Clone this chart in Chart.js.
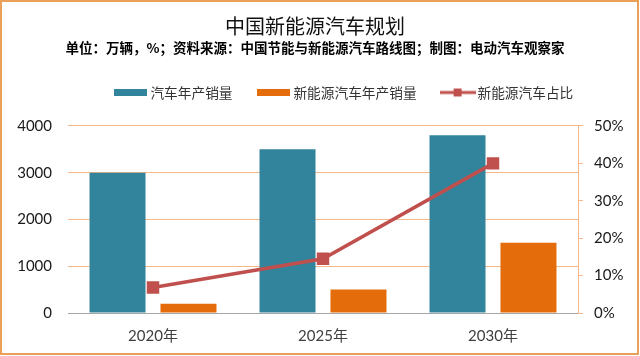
<!DOCTYPE html>
<html>
<head>
<meta charset="utf-8">
<script src="https://cdn.jsdelivr.net/npm/chart.js@4"></script>
<style>
  html, body { margin: 0; padding: 0; background: #fff; }
  #wrap { width: 640px; height: 356px; position: relative; }
</style>
</head>
<body>
<div id="wrap"><canvas id="c" width="640" height="356"></canvas></div>
<script>
// ---- data ----
const categories = ['2020年', '2025年', '2030年'];
const totalSales = [3000, 3500, 3800];          // 汽车年产销量 (万辆)
const nevSales = [200, 500, 1500];              // 新能源汽车年产销量 (万辆)
const nevShare = [6.8, 14.5, 40];               // 新能源汽车占比 (%)
const leftTicks = [0, 1000, 2000, 3000, 4000];
const rightTicks = [0, 10, 20, 30, 40, 50];
const seriesNames = ['汽车年产销量', '新能源汽车年产销量', '新能源汽车占比'];
const titleText = '中国新能源汽车规划';
const subtitleText = '单位：万辆，%；资料来源：中国节能与新能源汽车路线图；制图：电动汽车观察家';

// ---- styles ----
const BLUE = '#31849b';
const ORANGE = '#e46c0a';
const RED = '#c0504d';
const GRID = '#f6b889';
const FRAME = '#eba05a';
const CJK = '"Noto Sans CJK SC", "Noto Sans", sans-serif';
const NUM = 'Lato, "Noto Sans CJK SC", sans-serif';

function makeCanvas(w, h, draw) {
  const cv = document.createElement('canvas');
  cv.width = w; cv.height = h;
  draw(cv.getContext('2d'));
  return cv;
}
const iconBlue = makeCanvas(33, 7, g => { g.fillStyle = BLUE; g.fillRect(0, 0, 33, 7); });
const iconOrange = makeCanvas(33, 7, g => { g.fillStyle = ORANGE; g.fillRect(0, 0, 33, 7); });
const iconLine = makeCanvas(36, 10, g => {
  g.fillStyle = RED; g.fillRect(0, 3.5, 36, 3);
  g.fillRect(14, 1, 8, 8);
});
const iconBlank = makeCanvas(1, 1, g => {});

const framePlugin = {
  id: 'frame',
  beforeDraw(chart) {
    const g = chart.ctx;
    g.save();
    g.fillStyle = '#fff';
    g.fillRect(0, 0, chart.width, chart.height);
    g.restore();
  },
  afterDraw(chart) {
    const g = chart.ctx;
    g.save();
    g.strokeStyle = FRAME;
    g.lineWidth = 2;
    g.strokeRect(1, 1, chart.width - 3, chart.height - 3);
    g.restore();
  }
};

new Chart(document.getElementById('c'), {
  data: {
    labels: categories,
    datasets: [
      { type: 'line', label: seriesNames[2], data: nevShare, yAxisID: 'y1',
        borderColor: RED, backgroundColor: RED, borderWidth: 3.5,
        pointStyle: 'rect', pointRadius: 8.8, pointBorderWidth: 0,
        pointBackgroundColor: RED, tension: 0, order: 0 },
      { type: 'bar', label: seriesNames[0], data: totalSales, yAxisID: 'y',
        backgroundColor: BLUE, categoryPercentage: 0.835, barPercentage: 0.789, order: 1 },
      { type: 'bar', label: seriesNames[1], data: nevSales, yAxisID: 'y',
        backgroundColor: ORANGE, categoryPercentage: 0.835, barPercentage: 0.789, order: 1 }
    ]
  },
  options: {
    responsive: false,
    animation: false,
    devicePixelRatio: 1,
    layout: { padding: { left: 0, right: 10, top: 0, bottom: 0 } },
    plugins: {
      title: { display: true, text: titleText, color: '#111',
        font: { family: CJK, size: 20, weight: 'normal' },
        padding: { top: 14.5, bottom: 0 } },
      subtitle: { display: true, text: subtitleText, color: '#000',
        font: { family: CJK, size: 13.5, weight: 'bold' },
        padding: { top: 0.9, bottom: 2 } },
      legend: {
        display: true, position: 'top', align: 'center',
        labels: {
          usePointStyle: true, pointStyleWidth: 26, padding: 28,
          color: '#333', font: { family: CJK, size: 13.7 },
          generateLabels(chart) {
            const icons = [iconBlue, iconOrange, iconLine];
            const order = [1, 2, 0];
            const items = [{ text: '', pointStyle: iconBlank, hidden: false, lineWidth: 0,
              fillStyle: 'rgba(0,0,0,0)', strokeStyle: 'rgba(0,0,0,0)', datasetIndex: -1 }];
            [0, 1, 2].forEach(i => {
              items.push({ text: seriesNames[i], pointStyle: icons[i], hidden: false,
                lineWidth: 0, fillStyle: 'rgba(0,0,0,0)', strokeStyle: 'rgba(0,0,0,0)',
                fontColor: '#333', datasetIndex: order[i] });
            });
            return items;
          }
        },
        onClick() {}
      },
      tooltip: { enabled: false }
    },
    scales: {
      x: {
        type: 'category', position: 'bottom',
        grid: { display: false, drawTicks: false },
        border: { display: true, color: '#a6a6a6', width: 1 },
        ticks: { color: '#404040', font: { family: NUM, size: 15 }, padding: 14 },
        afterFit(s) { s.height = 43; }
      },
      spacer: {
        type: 'category', position: 'top', display: true,
        grid: { display: false, drawTicks: false }, border: { display: false },
        ticks: { display: false },
        afterFit(s) { s.height = 16.65; }
      },
      y: {
        type: 'linear', position: 'left', min: 0, max: 4000,
        afterBuildTicks(s) { s.ticks = leftTicks.map(v => ({ value: v })); },
        grid: { color: GRID, lineWidth: 1, drawTicks: false },
        border: { display: false },
        ticks: { color: '#1a1a1a', font: { family: NUM, size: 15 }, padding: 16,
          callback: v => String(v) },
        afterFit(s) { s.width = 68; }
      },
      y1: {
        type: 'linear', position: 'right', min: 0, max: 50,
        afterBuildTicks(s) { s.ticks = rightTicks.map(v => ({ value: v })); },
        grid: { drawOnChartArea: false, color: GRID, tickLength: 5, lineWidth: 1 },
        border: { display: true, color: GRID, width: 1 },
        ticks: { color: '#1a1a1a', font: { family: NUM, size: 15 }, padding: 11,
          callback: v => v + '%' },
        afterFit(s) { s.width = 52; }
      }
    }
  },
  plugins: [framePlugin]
});
</script>
</body>
</html>
